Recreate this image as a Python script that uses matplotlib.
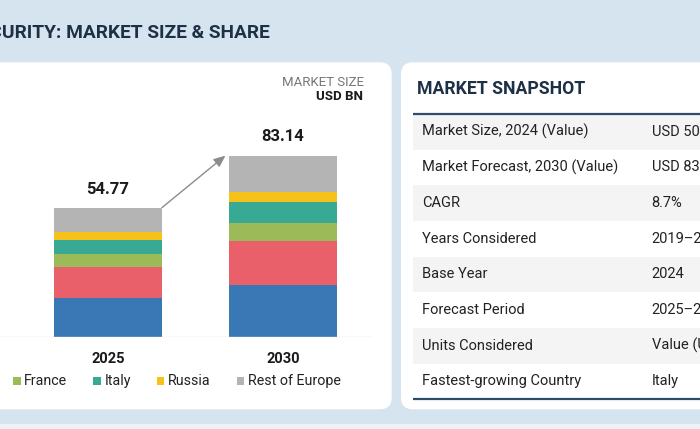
import matplotlib
matplotlib.use("Agg")
import matplotlib.pyplot as plt
from matplotlib.patches import FancyBboxPatch, Rectangle

plt.rcParams['font.family'] = ['Roboto', 'DejaVu Sans']

# ---------------- data ----------------
years = ["2025", "2030"]
totals = ["54.77", "83.14"]
regions = ["Germany", "UK", "France", "Italy", "Russia", "Rest of Europe"]
germany = [17.9, 23.7]
uk = [14.2, 20.3]
france = [6.1, 8.25]
italy = [6.1, 9.5]
russia = [3.7, 4.7]
rest = [11.1, 16.7]
colors = ["#3a78b5", "#e9606b", "#9cbb58", "#38a993", "#f6c21a", "#b4b4b4"]

snap_labels = ["Market Size, 2024 (Value)", "Market Forecast, 2030 (Value)", "CAGR",
               "Years Considered", "Base Year", "Forecast Period", "Units Considered",
               "Fastest-growing Country"]
snap_values = ["USD 50.39 BN", "USD 83.14 BN", "8.7%", "2019\u20132030", "2024",
               "2025\u20132030", "Value (USD BN)", "Italy"]

BG = "#d6e4f0"
NAVY = "#1d3046"
W, H = 700, 429

fig = plt.figure(figsize=(7.0, 4.29), dpi=100, facecolor=BG)
bg = fig.add_axes([0, 0, 1, 1])
bg.set_xlim(0, W)
bg.set_ylim(H, 0)
bg.axis("off")
bg.set_zorder(0)

# bottom strip
bg.add_patch(Rectangle((0, 424), W, 6, color="#eef2f6", lw=0))

# cards
for x0, x1 in [(-30, 391.7), (401, 740)]:
    bg.add_patch(FancyBboxPatch((x0, 62.3), x1 - x0, 409.3 - 62.3,
                                boxstyle="round,pad=0,rounding_size=12",
                                fc="white", ec="none"))

# title (left part cropped)
bg.text(270, 33.5, "SECURITY: MARKET SIZE & SHARE", ha="right", va="center",
        fontsize=13.8, fontweight="bold", color=NAVY)

# market size unit label
bg.text(363.5, 82, "MARKET SIZE", ha="right", va="center", fontsize=9.5, color="#777777")
bg.text(363.5, 97, "USD BN", ha="right", va="center", fontsize=9.5, fontweight="bold", color="#1a1a1a")

# snapshot table
bg.text(417, 88.5, "MARKET SNAPSHOT", ha="left", va="center", fontsize=12.7,
        fontweight="bold", color=NAVY)
top, rh = 114.0, 35.65
for i, (lab, val) in enumerate(zip(snap_labels, snap_values)):
    y0 = top + i * rh
    if i % 2 == 0:
        bg.add_patch(Rectangle((413, y0), 300, rh, color="#f4f4f4", lw=0))
    bg.text(421.7, y0 + rh / 2, lab, ha="left", va="center", fontsize=10.5, color="#222222")
    bg.text(651.7, y0 + rh / 2, val, ha="left", va="center", fontsize=10.5, color="#222222")
bg.plot([413, 710], [top, top], color="#2f4b6b", lw=1.6, solid_capstyle="butt")
bg.plot([413, 710], [top + 8 * rh, top + 8 * rh], color="#2f4b6b", lw=1.6, solid_capstyle="butt")

# ---------------- bar chart ----------------
ax = fig.add_axes([0, 1 - 337 / H, 372 / W, 197 / H])
ax.set_zorder(2)
ax.patch.set_alpha(0)
ax.set_xlim(-0.617, 1.509)
ax.set_ylim(0, 90.3)
series = [germany, uk, france, italy, russia, rest]
xs = list(range(len(years)))
bottoms = [0.0] * len(years)
bw = 0.617
for vals, c in zip(series, colors):
    ax.bar(xs, vals, bw, bottom=bottoms, color=c, lw=0)
    bottoms = [b + v for b, v in zip(bottoms, vals)]
for x, b, t in zip(xs, bottoms, totals):
    ax.annotate(t, (x, b), xytext=(0, 13.5), textcoords="offset points",
                ha="center", va="center", fontsize=12, fontweight="bold", color="#1a1a1a")
ax.annotate("", xy=(1 - bw / 2 - 0.02, bottoms[1]), xytext=(bw / 2, bottoms[0] + 0.2),
            arrowprops=dict(arrowstyle="-|>,head_length=0.7,head_width=0.3",
                            color="#8c8c8c", lw=1, shrinkA=0, shrinkB=0))
ax.axhline(0, color="#dddddd", lw=1)
ax.set_xticks(xs)
ax.set_xticklabels(years, fontsize=10.5, fontweight="bold", color="#1a1a1a")
ax.tick_params(axis="x", length=0, pad=11)
ax.set_yticks([])
for s in ax.spines.values():
    s.set_visible(False)

# legend (left part cropped)
r = fig.canvas.get_renderer()
fs_leg = 10.3
widths = []
for name in regions:
    t = bg.text(0, 0, name, fontsize=fs_leg)
    widths.append(t.get_window_extent(r).width)
    t.remove()
sq, gap_t, gap_n = 7.4, 11.0, 26.0
france_i = regions.index("France")
x = 13.3
for i in range(france_i - 1, -1, -1):
    x -= gap_t + widths[i] + gap_n
ly = 381
for name, c, w in zip(regions, colors, widths):
    bg.add_patch(Rectangle((x, ly - sq / 2), sq, sq, color=c, lw=0))
    bg.text(x + gap_t, ly, name, ha="left", va="center", fontsize=fs_leg, color="#222222")
    x += gap_t + w + gap_n

fig.savefig("out.png", dpi=100, facecolor=BG)
